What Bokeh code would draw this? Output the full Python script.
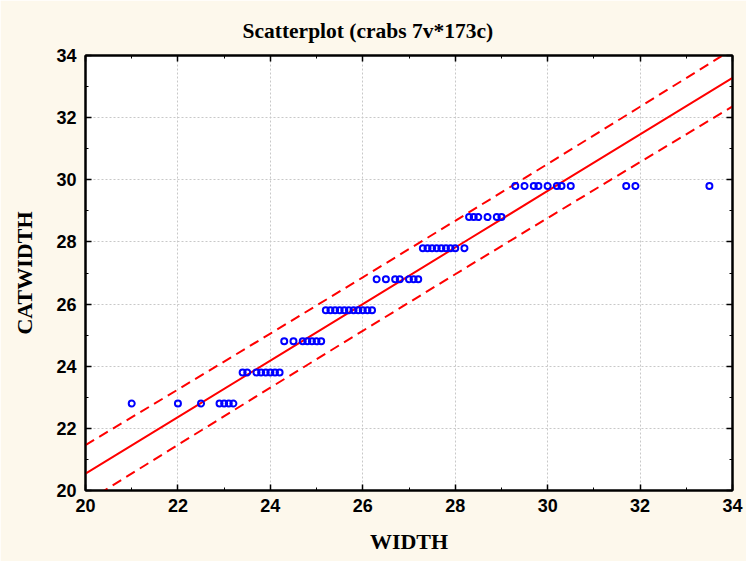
from bokeh.plotting import figure
from bokeh.models import Range1d, LinearAxis, SingleIntervalTicker, ColumnDataSource, CustomJSTickFormatter
from bokeh.embed import file_html
from bokeh.resources import INLINE

# CATWIDTH levels and WIDTH values
catwidth_levels = [22.8, 23.8, 24.8, 25.8, 26.8, 27.8, 28.8, 29.8]
w_228 = [21.0, 22.0, 22.5, 22.9, 23.0, 23.1, 23.2]
w_238 = [23.4, 23.5, 23.7, 23.8, 23.9, 24.0, 24.1, 24.2]
w_248 = [24.3, 24.5, 24.7, 24.8, 24.9, 25.0, 25.1]
w_258 = [25.2, 25.3, 25.4, 25.5, 25.6, 25.7, 25.8, 25.9, 26.0, 26.1, 26.2]
w_268 = [26.3, 26.5, 26.7, 26.8, 27.0, 27.1, 27.2]
w_278 = [27.3, 27.4, 27.5, 27.6, 27.7, 27.8, 27.9, 28.0, 28.2]
w_288 = [28.3, 28.4, 28.5, 28.7, 28.9, 29.0]
w_298 = [29.3, 29.5, 29.7, 29.8, 30.0, 30.2, 30.3, 30.5, 31.7, 31.9, 33.5]

# regression line and prediction band, read at these WIDTH values
band_x = [20, 22, 24, 26, 28, 30, 32, 34]
fit_y = [20.54, 22.36, 24.18, 26.00, 27.82, 29.64, 31.46, 33.28]
upper_y = [21.46, 23.25, 25.05, 26.86, 28.68, 30.51, 32.35, 34.20]
lower_y = [19.62, 21.47, 23.31, 25.14, 26.96, 28.77, 30.57, 32.36]

xs, ys = [], []
for lvl, ws in zip(catwidth_levels, [w_228, w_238, w_248, w_258, w_268, w_278, w_288, w_298]):
    xs.extend(ws)
    ys.extend([lvl] * len(ws))
src = ColumnDataSource(dict(x=xs, y=ys))

BG = "#FDF8EC"
p = figure(width=746, height=561, output_backend="svg", toolbar_location=None,
           x_range=Range1d(20, 34), y_range=Range1d(20, 34),
           x_axis_location=None, y_axis_location=None,
           min_border_left=85, min_border_right=14, min_border_top=55, min_border_bottom=71,
           background_fill_color="white", border_fill_color=BG)
p.outline_line_color = "black"
p.outline_line_width = 2

p.title.text = "Scatterplot (crabs 7v*173c)"
p.title.align = "left"
p.title.text_font = "Liberation Serif"
p.title.text_font_style = "bold"
p.title.text_font_size = "21.5px"
p.title.text_color = "black"
p.title.offset = 157
p.title.standoff = 25


def mk_axis(show_labels, label=None):
    ax = LinearAxis(ticker=SingleIntervalTicker(interval=2, num_minor_ticks=2))
    ax.axis_line_color = "black"
    ax.axis_line_width = 2
    ax.major_tick_in = 6
    ax.major_tick_out = 0
    ax.minor_tick_in = 3
    ax.minor_tick_out = 0
    ax.major_tick_line_color = "black"
    ax.minor_tick_line_color = "black"
    ax.major_tick_line_width = 1.5
    if show_labels:
        ax.major_label_text_font = "Liberation Sans"
        ax.major_label_text_font_style = "bold"
        ax.major_label_text_font_size = "18px"
        ax.major_label_text_color = "black"
        ax.axis_label = label
        ax.axis_label_text_font = "Liberation Serif"
        ax.axis_label_text_font_style = "bold"
        ax.axis_label_text_font_size = "22px"
        ax.axis_label_text_color = "black"
    else:
        ax.formatter = CustomJSTickFormatter(code="return ''")
        ax.major_label_standoff = 0
    return ax


xb = mk_axis(True, "WIDTH")
xb.major_label_standoff = 8
xb.axis_label_standoff = 14
yl = mk_axis(True, "CATWIDTH")
yl.major_label_standoff = 9
yl.axis_label_standoff = 16
p.add_layout(xb, "below")
p.add_layout(yl, "left")
p.add_layout(mk_axis(False), "above")
p.add_layout(mk_axis(False), "right")

p.xgrid.ticker = SingleIntervalTicker(interval=2)
p.ygrid.ticker = SingleIntervalTicker(interval=2)
for g in (p.xgrid, p.ygrid):
    g.grid_line_color = "#c8c8c8"
    g.grid_line_dash = "2 2"
    g.grid_line_width = 1

p.line(band_x, fit_y, line_color="#FF0000", line_width=2)
p.line(band_x, upper_y, line_color="#FF0000", line_width=2, line_dash="10 6")
p.line(band_x, lower_y, line_color="#FF0000", line_width=2, line_dash="10 6")

p.scatter("x", "y", source=src, size=6, marker="circle", fill_color="white", fill_alpha=0,
          line_color="#0000FF", line_width=2)

open("out.html", "w").write(file_html(p, INLINE))
